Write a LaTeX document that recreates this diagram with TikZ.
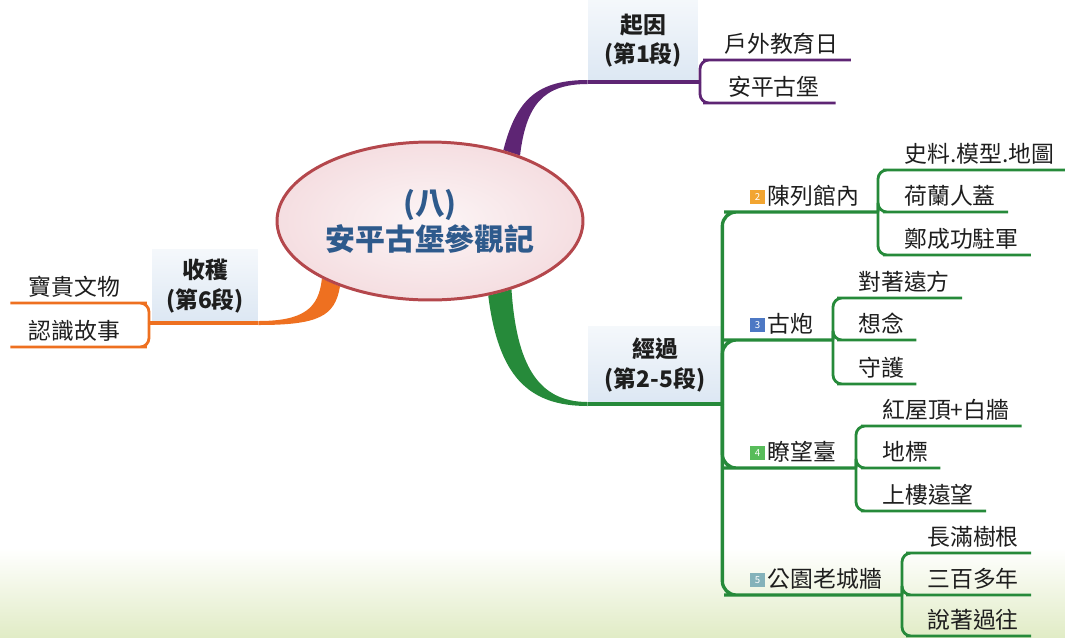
\documentclass[tikz,border=0pt]{standalone}
\usepackage{fontspec}
\setmainfont{Noto Sans CJK TC}
\usetikzlibrary{shapes.geometric,backgrounds}
\definecolor{ink}{HTML}{1E1E1E}
\definecolor{hubline}{HTML}{B4474C}
\definecolor{hubfill}{HTML}{F5DEE1}
\definecolor{hubtext}{HTML}{2E5A8C}
\definecolor{catfill}{HTML}{DCE7F3}
\definecolor{purplebr}{HTML}{5E2574}
\definecolor{orangebr}{HTML}{EE7020}
\definecolor{greenbr}{HTML}{268A3A}
\definecolor{tagtwo}{HTML}{F2A531}
\definecolor{tagthree}{HTML}{4D78C4}
\definecolor{tagfour}{HTML}{58BC5A}
\definecolor{tagfive}{HTML}{84B2BA}
\definecolor{groundgreen}{HTML}{E1ECC6}
\newcommand{\leafsize}{\fontsize{13}{15}\selectfont}
\newcommand{\catsize}{\fontsize{13}{17}\selectfont\bfseries}
\newcommand{\hubsize}{\fontsize{17}{20.5}\selectfont\bfseries}
\newcommand{\numtag}[2]{{\setlength{\fboxsep}{0.8pt}\raisebox{0.8pt}{\colorbox{#1}{\parbox[b][6.6pt][c]{6.6pt}{\centering\color{white}\fontsize{5.5}{5.5}\selectfont #2}}}}\hspace{1.7pt}}
\tikzset{
 every node/.append style={font=\leafsize,text=ink,align=center},
 hub/.style={ellipse,draw=hubline,line width=1.7pt,inner color=hubfill!30!white,outer color=hubfill,minimum width=6.12cm,minimum height=3.16cm,inner sep=0pt,font=\hubsize,text=hubtext},
 cat/.style={anchor=south,top color=catfill!30!white,bottom color=catfill,font=\catsize,inner sep=0pt},
 leaf/.style={inner xsep=2.4mm,inner ysep=2.2pt,text height=11pt,text depth=2pt},
 sub/.style={leaf,anchor=south west},
 twig/.style={line width=1.6pt,rounded corners=1.8mm},
 stem/.style={line width=2.2pt},
 trunk/.style={draw=greenbr,line width=1.9pt,rounded corners=2.8mm},
}
\begin{document}
\begin{tikzpicture}[x=0.02cm,y=-0.02cm]

\useasboundingbox (0,0) rectangle (1065,637);
\node[hub] (hub) at (430,221) {(八)\\安平古堡參觀記};
\node[cat,minimum width=2.2cm,minimum height=1.64cm] (c1) at (643,82) {起因\\(第1段)};
\node[cat,minimum width=2.68cm,minimum height=1.54cm] (c2) at (655,404) {經過\\(第2-5段)};
\node[cat,minimum width=2.12cm,minimum height=1.46cm] (c6) at (205,323) {收穫\\(第6段)};
% branch points
\coordinate (bp1) at (700,82);
\coordinate (bp6) at (149,323);
\coordinate (bp2) at (878,212);
\coordinate (bp3) at (833,340);
\coordinate (bp4) at (856,468);
\coordinate (bp5) at (902,595);
% leaves
\node[leaf,anchor=south west,minimum width=2.46cm] (l11) at (712,60) {戶外教育日};
\node[leaf,anchor=south west,minimum width=2.46cm] (l12) at (712,103) {安平古堡};
\node[leaf,anchor=south east,minimum width=2.54cm] (l61) at (138,303) {寶貴文物};
\node[leaf,anchor=south east,minimum width=2.54cm] (l62) at (138,347) {認識故事};
\node[sub] (s2) at (738,212) {\numtag{tagtwo}{2}陳列館內};
\node[sub] (s3) at (738,340) {\numtag{tagthree}{3}古炮};
\node[sub] (s4) at (738,468) {\numtag{tagfour}{4}瞭望臺};
\node[sub] (s5) at (738,595) {\numtag{tagfive}{5}公園老城牆};
\node[leaf,anchor=south west] (l21) at (892,170) {史料.模型.地圖};
\node[leaf,anchor=south west] (l22) at (892,212) {荷蘭人蓋};
\node[leaf,anchor=south west] (l23) at (892,255) {鄭成功駐軍};
\node[leaf,anchor=south west] (l31) at (846,298) {對著遠方};
\node[leaf,anchor=south west] (l32) at (846,340) {想念};
\node[leaf,anchor=south west] (l33) at (846,384) {守護};
\node[leaf,anchor=south west] (l41) at (870,426) {紅屋頂+白牆};
\node[leaf,anchor=south west] (l42) at (870,468) {地標};
\node[leaf,anchor=south west] (l43) at (870,511) {上樓遠望};
\node[leaf,anchor=south west] (l51) at (915,553) {長滿樹根};
\node[leaf,anchor=south west] (l52) at (915,595) {三百多年};
\node[leaf,anchor=south west] (l53) at (915,636) {說著過往};

% purple: cause
\draw[stem,purplebr] (c1.south west) -- (c1.south east) -- (bp1);
\foreach \l in {l11,l12} \draw[twig,purplebr] (bp1) |- (\l.south west) -- (\l.south east);
% orange: harvest
\draw[stem,orangebr] (c6.south east) -- (c6.south west) -- (bp6);
\foreach \l in {l61,l62} \draw[twig,orangebr] (bp6) |- (\l.south east) -- (\l.south west);
% green: course
\draw[stem,greenbr] (c2.south west) -- (c2.south east);
\draw[trunk] (c2.south east) |- (s2.south west) -- (bp2);
\draw[trunk] (c2.south east) |- (s3.south west) -- (bp3);
\draw[trunk] (c2.south east) |- (s4.south west) -- (bp4);
\draw[trunk] (c2.south east) |- (s5.south west) -- (bp5);
\foreach \b/\l in {bp2/l21,bp2/l22,bp2/l23,bp3/l31,bp3/l32,bp3/l33,bp4/l41,bp4/l42,bp4/l43,bp5/l51,bp5/l52,bp5/l53}
 \draw[twig,greenbr] (\b) |- (\l.south west) -- (\l.south east);

\begin{scope}[on background layer]
\fill[top color=white,bottom color=groundgreen] (0,548) rectangle (1065,637);
\fill[purplebr] (hub.44) .. controls +(13,-51) and +(-50,0) .. ([yshift=.4mm]c1.south west) -- ([yshift=-.4mm]c1.south west) .. controls +(-45,0) and +(6,-50) .. (hub.36) -- cycle;
\fill[greenbr] (hub.-52) .. controls +(10,80) and +(-60,0) .. ([yshift=-.4mm]c2.south west) -- ([yshift=.4mm]c2.south west) .. controls +(-50,0) and +(5,75) .. (hub.-40) -- cycle;
\fill[orangebr] (hub.208) .. controls +(-3,30) and +(45,0) .. ([yshift=.4mm]c6.south east) -- ([yshift=-.4mm]c6.south east) .. controls +(60,0) and +(-5,30) .. (hub.216) -- cycle;
\end{scope}

\end{tikzpicture}
\end{document}
